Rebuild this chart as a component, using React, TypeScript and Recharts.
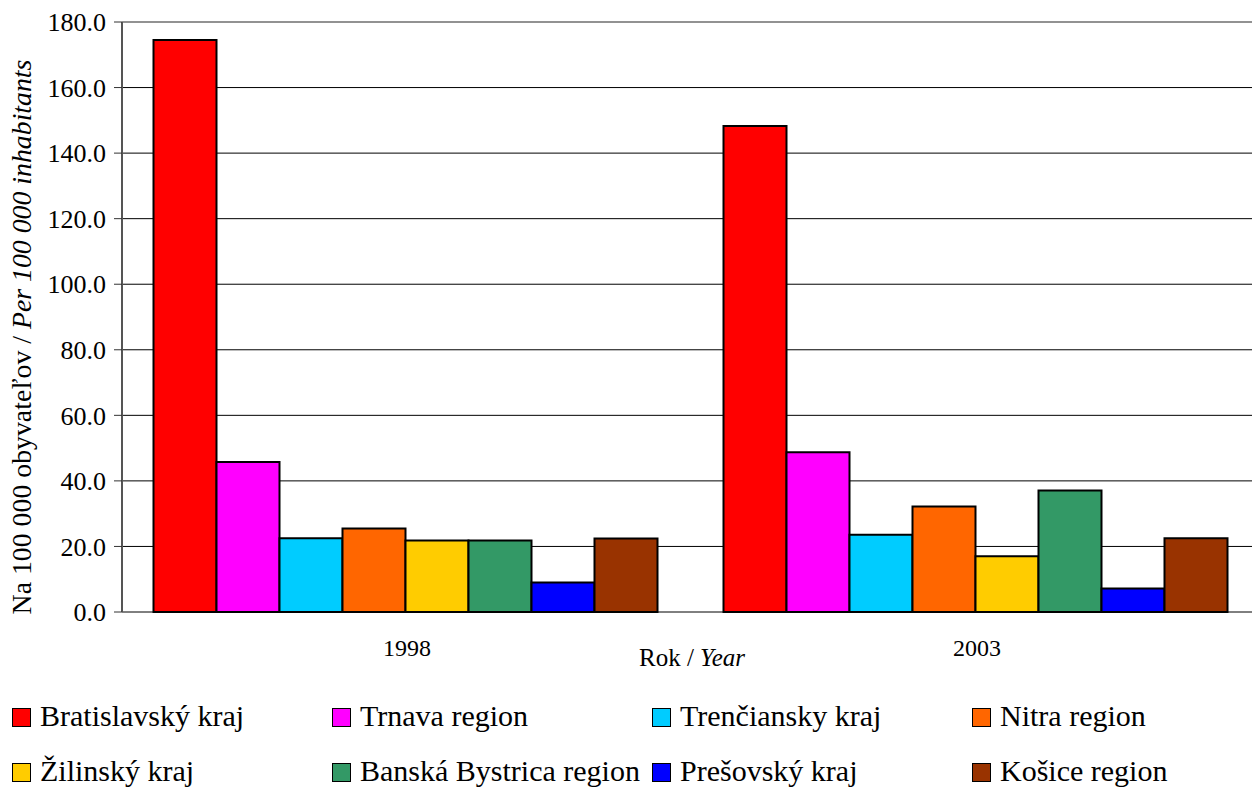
import React from 'react';
import { BarChart, Bar, XAxis, YAxis, CartesianGrid, ReferenceLine } from 'recharts';

const years = ['1998', '2003'];

const regions = [
  'Bratislavský kraj',
  'Trnava region',
  'Trenčiansky kraj',
  'Nitra region',
  'Žilinský kraj',
  'Banská Bystrica region',
  'Prešovský kraj',
  'Košice region',
];

const colors = ['#FF0000', '#FF00FF', '#00CCFF', '#FF6600', '#FFCC00', '#339966', '#0000FF', '#993300'];

const bratislava = [174.5, 148.3];
const trnava = [45.8, 48.7];
const trencin = [22.5, 23.6];
const nitra = [25.5, 32.2];
const zilina = [21.8, 17.0];
const banskaBystrica = [21.8, 37.1];
const presov = [9.0, 7.2];
const kosice = [22.4, 22.5];

const seriesValues = [bratislava, trnava, trencin, nitra, zilina, banskaBystrica, presov, kosice];

const yTicks = [0, 20, 40, 60, 80, 100, 120, 140, 160, 180];

const data = years.map((year, i) => {
  const row: Record<string, string | number> = { year, pos: i + 0.5 };
  regions.forEach((r, k) => {
    row[`s${k}`] = seriesValues[k][i];
  });
  return row;
});

const FONT = 'Liberation Serif';

const YLabel = (props: any) => {
  const { viewBox } = props;
  const cx = 31;
  const cy = viewBox.y + viewBox.height / 2 + 20;
  return (
    <text
      x={cx}
      y={cy}
      transform={`rotate(-90, ${cx}, ${cy})`}
      textAnchor="middle"
      fontFamily={FONT}
      fontSize={27.8}
      fill="#000"
    >
      Na 100 000 obyvateľov / <tspan fontStyle="italic">Per 100 000 inhabitants</tspan>
    </text>
  );
};

const XLabel = (props: any) => {
  const { viewBox } = props;
  const cx = viewBox.x + viewBox.width / 2;
  return (
    <text x={cx} y={666} textAnchor="middle" fontFamily={FONT} fontSize={25} fill="#000">
      Rok / <tspan fontStyle="italic">Year</tspan>
    </text>
  );
};

const legendCols = [12, 332, 652, 972];

export default function App() {
  return (
    <div style={{ position: 'absolute', left: 0, top: 0, width: 1252, height: 787, background: '#fff', overflow: 'hidden' }}>
      <BarChart
        width={1252}
        height={787}
        data={data}
        margin={{ top: 22, right: -10, left: 0, bottom: 115 }}
        barCategoryGap={31.5}
        barGap={0}
      >
        <CartesianGrid vertical={false} stroke="#000" strokeWidth={1} />
        <ReferenceLine y={180} stroke="#999" strokeWidth={1.5} />
        <XAxis
          xAxisId="edges"
          type="number"
          dataKey="pos"
          domain={[0, 2]}
          ticks={[0, 1, 2]}
          tickFormatter={() => ''}
          height={0}
          tickSize={8}
          tickLine={{ stroke: '#555' }}
          axisLine={{ stroke: '#999', strokeWidth: 1.5 }}
        />
        <XAxis
          dataKey="year"
          height={60}
          tickLine={false}
          axisLine={false}
          tick={{ fontFamily: FONT, fontSize: 24, fill: '#000' }}
          tickMargin={21}
          label={<XLabel />}
        />
        <YAxis
          width={122}
          domain={[0, 180]}
          ticks={yTicks}
          interval={0}
          tickFormatter={(v: number) => v.toFixed(1)}
          tickSize={8}
          tickMargin={8}
          tickLine={{ stroke: '#333' }}
          axisLine={{ stroke: '#555', strokeWidth: 2 }}
          tick={{ fontFamily: FONT, fontSize: 26, fill: '#000' }}
          label={<YLabel />}
        />
        {regions.map((r, k) => (
          <Bar
            key={r}
            dataKey={`s${k}`}
            name={r}
            fill={colors[k]}
            stroke="#000"
            strokeWidth={2}
            isAnimationActive={false}
          />
        ))}
      </BarChart>
      {regions.map((r, k) => {
        const row = Math.floor(k / 4);
        const col = k % 4;
        return (
          <div
            key={r}
            style={{
              position: 'absolute',
              left: legendCols[col],
              top: 698 + row * 55,
              height: 36,
              display: 'flex',
              alignItems: 'center',
              fontFamily: FONT,
              fontSize: 30,
              color: '#000',
              whiteSpace: 'nowrap',
            }}
          >
            <span
              style={{
                display: 'inline-block',
                width: 17,
                height: 17,
                background: colors[k],
                border: '1.5px solid #000',
                marginRight: 9,
                marginTop: 2,
              }}
            />
            {r}
          </div>
        );
      })}
    </div>
  );
}
